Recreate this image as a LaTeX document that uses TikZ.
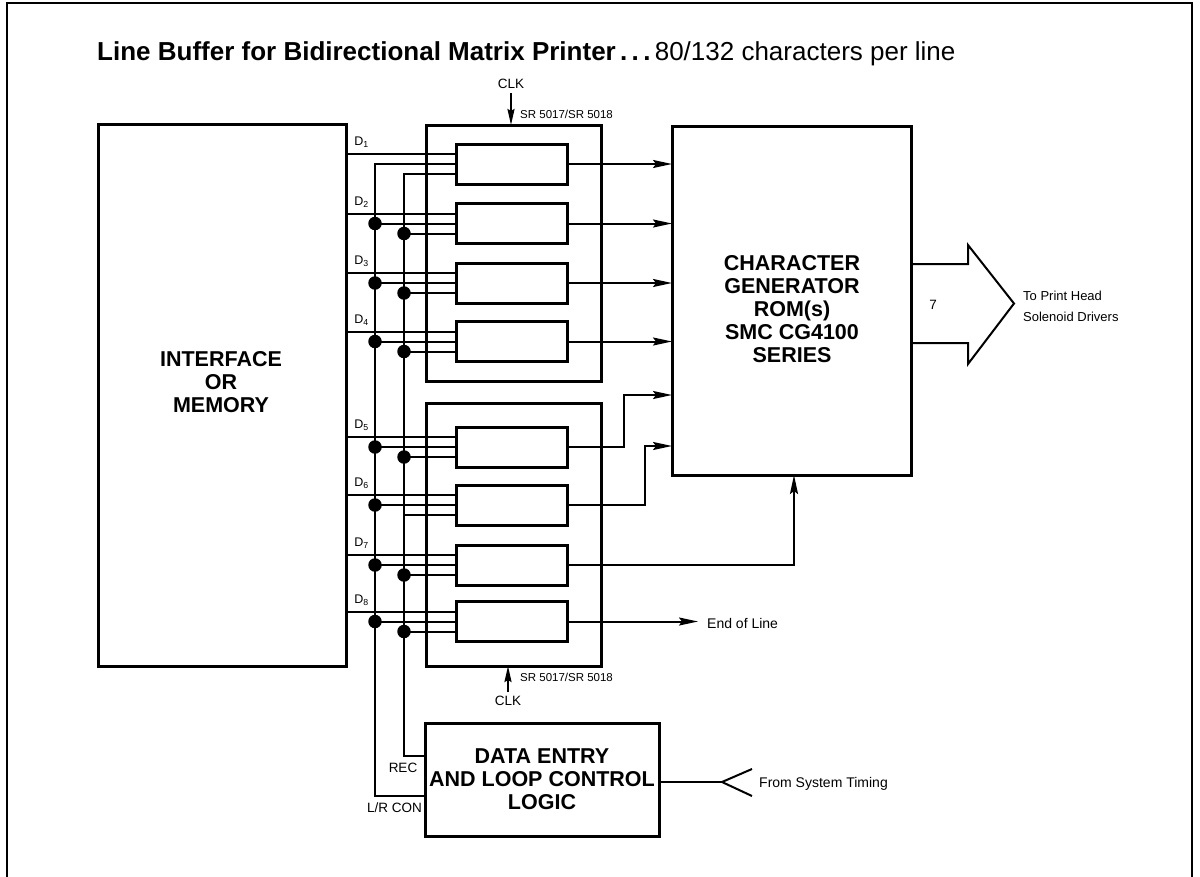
\documentclass[tikz,border=0pt]{standalone}
\usepackage{fontspec}
\setmainfont{Liberation Sans}
\usetikzlibrary{arrows.meta}
\begin{document}
\begin{tikzpicture}[x=1pt,y=-1pt,
  box/.style={draw, line width=3pt, inner sep=0pt, outer sep=0pt, rectangle},
  reg/.style={box, minimum width=111pt, minimum height=40pt},
  wire/.style={line width=2pt},
  sig/.style={wire, -{Stealth[length=19pt,width=8pt,inset=3pt]}},
  clkarrow/.style={wire, -{Stealth[length=16pt,width=7pt,inset=2pt]}},
  bigtxt/.style={font=\fontsize{21.5}{23}\selectfont\bfseries, align=center, inner sep=0pt},
  smalltxt/.style={font=\fontsize{13.5}{15}\selectfont, inner sep=0pt},
  srtxt/.style={font=\fontsize{11.5}{13}\selectfont, inner sep=0pt, anchor=west},
  dlabel/.style={font=\fontsize{12.5}{14}\selectfont, inner sep=0pt},
  dot/.style={circle, fill, inner sep=0pt, minimum size=13.5pt},
]
\useasboundingbox (0,0) rectangle (1200,876);
% frame
\draw[line width=2pt] (7,880) -- (7,3) -- (1192,3) -- (1192,880);
% title
\node[anchor=base west, inner sep=0pt] (title) at (97,60)
  {\fontsize{26}{30}\selectfont\bfseries Line Buffer for Bidirectional Matrix Printer\,.\,.\,.\,\mdseries 80/132 characters per line};
% main boxes
\node[box, minimum width=248pt, minimum height=542pt] (iface) at (222.5,395) {};
\node[bigtxt] (ifacetxt) at (221,382) {INTERFACE\\OR\\MEMORY};
\node[box, minimum width=175pt, minimum height=256pt] (sra) at (513.5,253) {};
\node[box, minimum width=175pt, minimum height=263pt] (srb) at (513.5,534.5) {};
\node[box, minimum width=239pt, minimum height=349pt] (cg) at (791.5,300.5) {};
\node[bigtxt] (cgtxt) at (792,309.5) {CHARACTER\\GENERATOR\\ROM(s)\\SMC CG4100\\SERIES};
\node[box, bigtxt, minimum width=234pt, minimum height=113pt] (de) at (542,779.5) {DATA ENTRY\\AND LOOP CONTROL\\LOGIC};
% registers
\foreach \i/\c in {1/164,2/223.5,3/283,4/341.5,5/447,6/505,7/565,8/621.5}{
  \node[reg] (r\i) at (511.5,\c) {};
  \path (r\i.west) ++(0,-10) coordinate (p\i) (r\i.west) ++(0,10) coordinate (q\i);
  \draw[wire] (iface.east |- p\i) -- (p\i);
  \node[dlabel] (dl\i) at (361.5,\c-21.5) {D\textsubscript{\i}};
}
% buses
\coordinate (b1top) at (375,164);
\coordinate (b1bot) at (375,796);
\coordinate (b2top) at (404,174);
\coordinate (b2bot) at (404,756);
\draw[wire] (r1.west) -- (b1top) -- (b1bot) -- (b1bot -| de.west);
\draw[wire] (q1) -- (b2top) -- (b2bot) -- (b2bot -| de.west);
\foreach \i in {2,...,8}{
  \draw[wire] (b1top |- r\i.west) -- (r\i.west);
  \node[dot] (da\i) at (b1top |- r\i.west) {};
}
\foreach \i in {2,3,4,5,7,8}{
  \draw[wire] (b2top |- q\i) -- (q\i);
  \node[dot] (db\i) at (b2top |- q\i) {};
}
\draw[wire] (b2top |- q6) -- (q6);
% outputs
\foreach \i in {1,2,3,4}{
  \draw[sig] (r\i.east) -- (r\i.east -| cg.west);
}
\coordinate (k5) at (624,447);
\coordinate (m5) at (624,395);
\draw[sig] (r5.east) -- (k5) -- (m5) -- (m5 -| cg.west);
\coordinate (k6) at (645,505);
\coordinate (m6) at (645,446);
\draw[sig] (r6.east) -- (k6) -- (m6) -- (m6 -| cg.west);
\coordinate (k7) at (794,565);
\draw[sig] (r7.east) -- (k7) -- (k7 |- cg.south);
\node[smalltxt, font=\fontsize{14}{16}\selectfont, anchor=west] (eol) at (707,623) {End of Line};
\coordinate (eolt) at (698,621.5);
\draw[sig] (r8.east) -- (eolt);
% clocks
\node[smalltxt] (clk1) at (511,84) {CLK};
\draw[clkarrow] (511,93) -- (clk1.south |- sra.north);
\node[srtxt] (sr1) at (520,114) {SR 5017/SR 5018};
\node[smalltxt] (clk2) at (508,701) {CLK};
\draw[clkarrow] (508,692) -- (clk2.north |- srb.south);
\node[srtxt] (sr2) at (520,677) {SR 5017/SR 5018};
% control labels
\node[smalltxt] (rec) at (403,768) {REC};
\node[smalltxt] (lrcon) at (394.5,808) {L/R CON};
% big output arrow
\coordinate (ba) at (912,264);
\coordinate (bb) at (912,343);
\draw[line width=2pt, line join=miter] (cg.east |- ba) -- (968,264) -- (968,245) -- (1014,303.5) -- (968,364) -- (968,343) -- (cg.east |- bb);
\node[smalltxt] (seven) at (933,305) {7};
\node[smalltxt, font=\fontsize{13}{15}\selectfont, anchor=west] (tph) at (1023,296) {To Print Head};
\node[smalltxt, font=\fontsize{13}{15}\selectfont, anchor=west] (sd) at (1023,317) {Solenoid Drivers};
% system timing input
\coordinate (vt) at (722,782);
\draw[wire] (de.east |- vt) -- (vt);
\draw[wire] (752,769) -- (vt) -- (752,796);
\node[smalltxt, font=\fontsize{14}{16}\selectfont, anchor=west] (fst) at (759,784) {From System Timing};
\end{tikzpicture}
\end{document}
